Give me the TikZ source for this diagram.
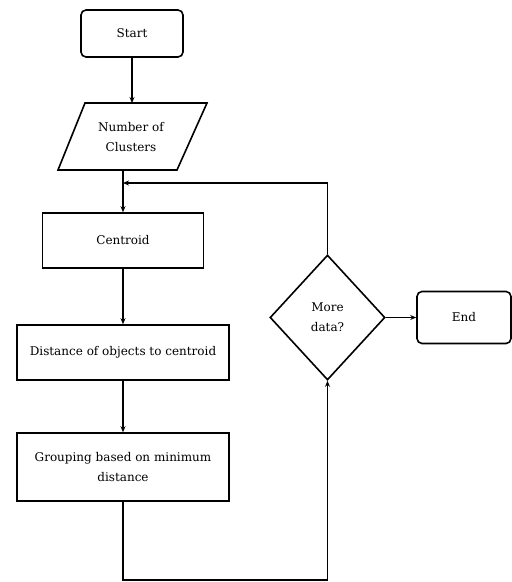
\documentclass[tikz,border=0pt]{standalone}
\usepackage{fontspec}
\setmainfont{DejaVu Serif}
\usetikzlibrary{shapes.geometric,arrows.meta}
\tikzset{
  txt/.style={align=center, font=\fontsize{12}{20}\selectfont},
  box/.style={draw, line width=1.6pt, txt, inner sep=2pt},
  term/.style={box, rounded corners=5pt},
  flow/.style={line width=1.5pt, -{Stealth[length=6pt,width=5pt]}},
  plain/.style={line width=1.5pt},
}
\begin{document}
\begin{tikzpicture}[x=1pt,y=-1pt]
\useasboundingbox (0,0) rectangle (512,582);
\node[term, minimum width=102pt, minimum height=47pt] (start) at (132,33.5) {Start};
% parallelogram
\coordinate (pTL) at (85,103);
\coordinate (pTR) at (207,103);
\coordinate (pBR) at (177,170);
\coordinate (pBL) at (58,170);
\draw[line width=1.6pt, line join=miter] (pTL) -- (pTR) -- (pBR) -- (pBL) -- cycle;
\node[txt] (para) at (131,137) {Number of\\Clusters};
\coordinate (pin) at (132,103);
\coordinate (pout) at (123,170);
\node[box, minimum width=161pt, minimum height=55pt] (cen) at (123,240.5) {Centroid};
\node[box, minimum width=212pt, minimum height=55pt] (dist) at (123,352.5) {Distance of objects to centroid};
\node[box, minimum width=212pt, minimum height=68pt] (grp) at (123,467) {Grouping based on minimum\\distance};
\node[draw, diamond, line width=1.6pt, minimum width=115pt, minimum height=125pt, inner sep=0pt, txt] (dec) at (327.5,317.5) {More\\data?};
\node[term, minimum width=94pt, minimum height=52pt] (end) at (464,317.5) {End};
\coordinate (join) at (123,183);
\coordinate (bl) at (123,580);
\coordinate (br) at (327.5,580);
\coordinate (tr) at (327.5,183);
\draw[flow] (start.south) -- (pin);
\draw[plain] (pout) -- (join);
\draw[flow] (join) -- (cen.north);
\draw[flow] (dec.north) -- (tr) -- (join);
\draw[flow] (cen.south) -- (dist.north);
\draw[flow] (dist.south) -- (grp.north);
\draw[flow] (grp.south) -- (bl) -- (br) -- (dec.south);
\draw[flow] (dec.east) -- (end.west);
\end{tikzpicture}
\end{document}
